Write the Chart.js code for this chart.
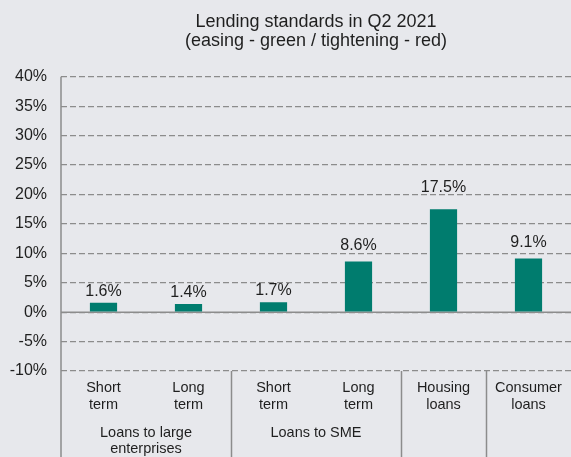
<!DOCTYPE html>
<html>

<head>
    <title>Lending standards in Q2 2021</title>
    <script src="https://cdn.jsdelivr.net/npm/chart.js"></script>
    <style>
        body { margin: 0; background: #e7e8ec; }
    </style>
</head>

<body>
    <canvas id="chart" width="571" height="457"></canvas>
    <script>
        // net easing (+) / tightening (-) of lending standards, %
        const categories = [['Short', 'term'], ['Long', 'term'], ['Short', 'term'], ['Long', 'term'], ['Housing', 'loans'], ['Consumer', 'loans']];
        const values = [1.6, 1.4, 1.7, 8.6, 17.5, 9.1];
        // which group each category belongs to (for the second label row)
        const categoryGroup = [0, 0, 1, 1, 2, 3];
        const groupLabels = [['Loans to large', 'enterprises'], ['Loans to SME'], [], []];
        const yMin = -10, yMax = 40, yStep = 5;

        const FONT = 'Liberation Sans, Arial, sans-serif';
        const TEXT = '#1f1f1f';
        const LINE = '#8c8c8c';
        const easingColor = '#007c6e';
        const tighteningColor = '#c0392b';

        const extras = {
            id: 'extras',
            beforeDatasetsDraw(chart) {
                const { ctx, chartArea, scales: { x, y } } = chart;
                ctx.save();
                ctx.strokeStyle = LINE;
                ctx.lineWidth = 1.5;
                ctx.beginPath();
                // solid zero line
                const y0 = y.getPixelForValue(0);
                ctx.moveTo(chartArea.left, y0);
                ctx.lineTo(chartArea.right, y0);
                // left axis running down through the label rows
                ctx.moveTo(chartArea.left, chartArea.top);
                ctx.lineTo(chartArea.left, chart.height);
                // separators between groups
                for (let i = 0; i < categories.length - 1; i++) {
                    if (categoryGroup[i] !== categoryGroup[i + 1]) {
                        const bx = Math.round((x.getPixelForValue(i) + x.getPixelForValue(i + 1)) / 2) + 0.5;
                        ctx.moveTo(bx, chartArea.bottom);
                        ctx.lineTo(bx, chart.height);
                    }
                }
                ctx.stroke();
                ctx.restore();
            },
            afterDatasetsDraw(chart) {
                const { ctx } = chart;
                const meta = chart.getDatasetMeta(0);
                ctx.save();
                ctx.font = '16px ' + FONT;
                ctx.fillStyle = TEXT;
                ctx.textAlign = 'center';
                ctx.textBaseline = 'alphabetic';
                meta.data.forEach((bar, i) => {
                    const v = values[i];
                    ctx.fillText(v.toFixed(1) + '%', bar.x, bar.y - (6 + Math.abs(v) * 0.65));
                });
                ctx.restore();
            },
            afterDraw(chart) {
                const { ctx, chartArea, scales: { x } } = chart;
                ctx.save();
                ctx.font = '14.5px ' + FONT;
                ctx.fillStyle = TEXT;
                ctx.textAlign = 'center';
                ctx.textBaseline = 'alphabetic';
                groupLabels.forEach((lines, g) => {
                    const idx = categoryGroup.map((c, i) => c === g ? i : -1).filter(i => i >= 0);
                    if (!lines.length || !idx.length) return;
                    const cx = (x.getPixelForValue(idx[0]) + x.getPixelForValue(idx[idx.length - 1])) / 2;
                    lines.forEach((t, k) => ctx.fillText(t, cx, chartArea.bottom + 66 + k * 16));
                });
                ctx.restore();
            }
        };

        new Chart(document.getElementById('chart'), {
            type: 'bar',
            data: {
                labels: categories,
                datasets: [{
                    data: values,
                    backgroundColor: values.map(v => v >= 0 ? easingColor : tighteningColor),
                    categoryPercentage: 1,
                    barPercentage: 0.32
                }]
            },
            options: {
                responsive: false,
                animation: false,
                layout: { padding: 0 },
                plugins: {
                    legend: { display: false },
                    tooltip: { enabled: false },
                    title: {
                        display: true,
                        fullSize: false,
                        text: ['Lending standards in Q2 2021', '(easing - green / tightening - red)'],
                        color: TEXT,
                        font: { family: FONT, size: 18, weight: 'normal', lineHeight: 1.05 },
                        padding: { top: 13, bottom: 26 }
                    }
                },
                scales: {
                    x: {
                        afterFit(scale) { scale.height = 86; },
                        grid: { display: false, drawTicks: false },
                        border: { display: false },
                        ticks: {
                            autoSkip: false,
                            maxRotation: 0,
                            padding: 9,
                            color: TEXT,
                            font: { family: FONT, size: 14.5, lineHeight: 1.15 }
                        }
                    },
                    y: {
                        min: yMin,
                        max: yMax,
                        afterFit(scale) { scale.width = 61; },
                        grid: { color: LINE, lineWidth: 1.2, drawTicks: false },
                        border: { display: false, dash: [6, 3] },
                        ticks: {
                            stepSize: yStep,
                            padding: 14,
                            color: TEXT,
                            font: { family: FONT, size: 16 },
                            callback: v => v + '%'
                        }
                    }
                }
            },
            plugins: [extras]
        });
    </script>
</body>

</html>
